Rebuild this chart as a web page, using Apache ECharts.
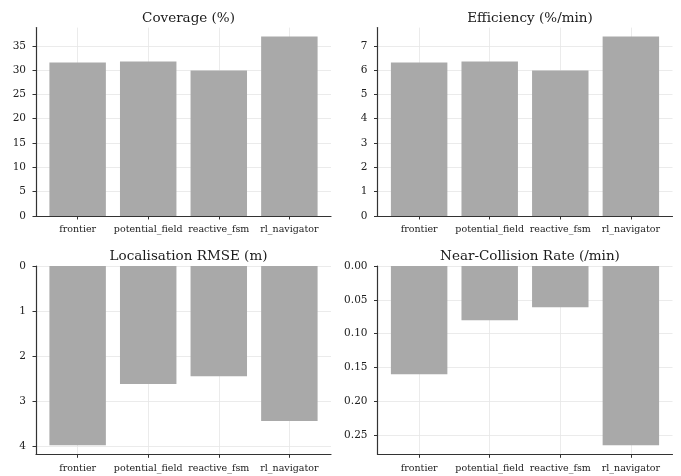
<!DOCTYPE html>
<html><head><meta charset="utf-8">
<script src="https://cdn.jsdelivr.net/npm/echarts@6/dist/echarts.min.js"></script>
<style>html,body{margin:0;padding:0;background:#fff}#c{width:681px;height:476px}</style>
</head><body><div id="c"></div>
<script>
const categories = ['frontier', 'potential_field', 'reactive_fsm', 'rl_navigator'];
const coverage = [31.55, 31.75, 29.9, 36.9];
const efficiency = [6.31, 6.35, 5.98, 7.38];
const rmse = [3.97, 2.61, 2.44, 3.43];
const nearCollision = [0.160, 0.080, 0.061, 0.265];
const coverageTicks = [0, 5, 10, 15, 20, 25, 30, 35];
const efficiencyTicks = [0, 1, 2, 3, 4, 5, 6, 7];
const rmseTicks = [0, 1, 2, 3, 4];
const collisionTicks = [0, 0.05, 0.10, 0.15, 0.20, 0.25];
const titles = ['Coverage (%)', 'Efficiency (%/min)', 'Localisation RMSE (m)', 'Near-Collision Rate (/min)'];

const FONT = 'DejaVu Serif';
const panels = [
  {vals: coverage, ticks: coverageTicks, inv: false, fmt: v => String(v)},
  {vals: efficiency, ticks: efficiencyTicks, inv: false, fmt: v => String(v)},
  {vals: rmse, ticks: rmseTicks, inv: true, fmt: v => String(v)},
  {vals: nearCollision, ticks: collisionTicks, inv: true, fmt: v => v.toFixed(2)}
];
const boxes = [
  {left: 36, top: 27.6, width: 295, height: 188.4},
  {left: 377.5, top: 27.6, width: 295, height: 188.4},
  {left: 36, top: 266, width: 295, height: 188.3},
  {left: 377.5, top: 266, width: 295, height: 188.3}
];
const idx = categories.map((_, i) => i);
const xmin = -0.4 - 0.05 * 3.8, xmax = 3.4 + 0.05 * 3.8;

const option = {
  animation: false,
  backgroundColor: '#fff',
  title: [], grid: [], xAxis: [], yAxis: [], series: []
};
panels.forEach((p, k) => {
  const b = boxes[k];
  option.title.push({
    text: titles[k], left: b.left + b.width / 2, top: k < 2 ? 6 : 244, textAlign: 'center',
    textStyle: {fontFamily: FONT, fontSize: 13.5, fontWeight: 'normal', color: '#1a1a1a'}
  });
  option.grid.push({left: b.left, top: b.top, width: b.width, height: b.height});
  option.xAxis.push({
    type: 'value', gridIndex: k, min: xmin, max: xmax, position: 'bottom',
    axisLine: {show: true, onZero: false, lineStyle: {color: '#333', width: 1.2}},
    axisTick: {show: true, length: 3.5, customValues: idx, lineStyle: {color: '#333'}},
    axisLabel: {customValues: idx, margin: 9, fontFamily: FONT, fontSize: 9.5, color: '#222',
      formatter: v => categories[Math.round(v)] || ''},
    splitLine: {show: true, lineStyle: {color: '#e6e6e6', width: 0.8}}
  });
  const mx = Math.max(...p.vals) * 1.05;
  option.yAxis.push({
    type: 'value', gridIndex: k, min: 0, max: mx, inverse: p.inv, position: 'left',
    axisLine: {show: true, onZero: false, lineStyle: {color: '#333', width: 1.2}},
    axisTick: {show: true, length: 3.5, customValues: p.ticks, lineStyle: {color: '#333'}},
    axisLabel: {customValues: p.ticks, margin: 10, fontFamily: FONT, fontSize: 10.5, color: '#222',
      formatter: v => p.fmt(v)},
    splitLine: {show: true, lineStyle: {color: '#e6e6e6', width: 0.8}}
  });
  option.series.push({
    type: 'bar', xAxisIndex: k, yAxisIndex: k,
    data: p.vals.map((v, i) => [i, v]),
    barWidth: 0.8 * b.width / (xmax - xmin),
    itemStyle: {color: '#a9a9a9'}
  });
});
const chart = echarts.init(document.getElementById('c'), null, {renderer: 'canvas'});
chart.setOption(option);
</script></body></html>
